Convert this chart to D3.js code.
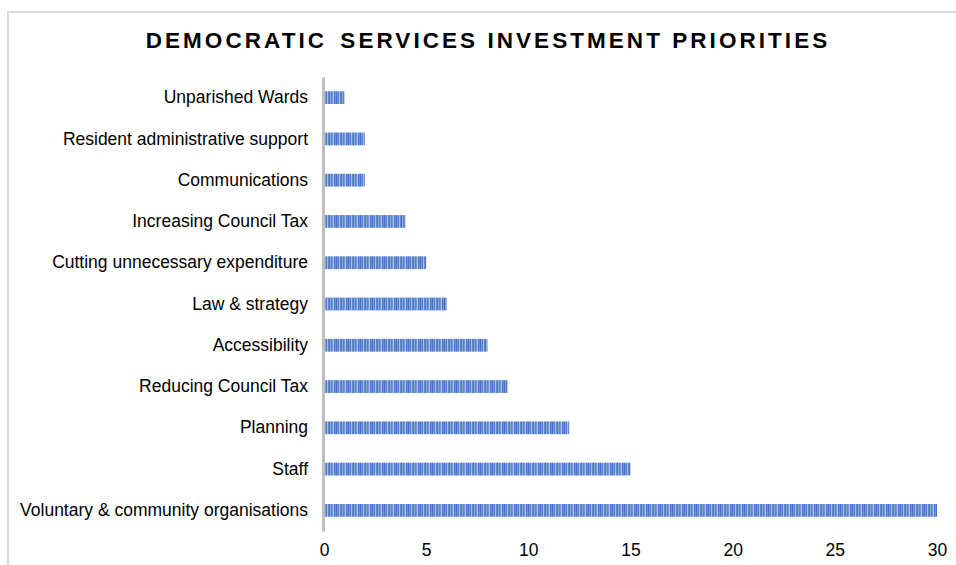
<!DOCTYPE html>
<html>
<head>
<meta charset="utf-8">
<script src="https://cdn.jsdelivr.net/npm/d3@7"></script>
<style>
  html, body { margin: 0; padding: 0; background: #fff; }
  svg { display: block; }
</style>
</head>
<body>
<svg id="chart" width="956" height="565"></svg>
<script>
// Investment priorities, listed top to bottom
const categories = [
  "Unparished Wards",
  "Resident administrative support",
  "Communications",
  "Increasing Council Tax",
  "Cutting unnecessary expenditure",
  "Law & strategy",
  "Accessibility",
  "Reducing Council Tax",
  "Planning",
  "Staff",
  "Voluntary & community organisations"
];
const values = [1, 2, 2, 4, 5, 6, 8, 9, 12, 15, 30];
const xTicks = [0, 5, 10, 15, 20, 25, 30];
const titleParts = ["DEMOCRATIC", " SERVICES INVESTMENT PRIORITIES"];

const svg = d3.select("#chart");
const W = 956, H = 565;
const margin = { left: 324, right: 19, top: 77, bottom: 34 };

// Striped fill for the bars
const defs = svg.append("defs");
const stripeColors = ["#4472c4", "#7b9bd8", "#5580cb", "#a8bde6", "#6289cf", "#4a76c6", "#8eaadf", "#5580cb", "#7296d6", "#b3c6ea", "#4d79c7", "#6d8fd3"];
const pat = defs.append("pattern")
  .attr("id", "stripes")
  .attr("patternUnits", "userSpaceOnUse")
  .attr("width", stripeColors.length)
  .attr("height", 10);
pat.selectAll("rect").data(stripeColors).join("rect")
  .attr("x", (d, i) => i).attr("y", 0)
  .attr("width", 1).attr("height", 10)
  .attr("fill", d => d);

// Chart frame
svg.append("rect")
  .attr("x", 8).attr("y", 12)
  .attr("width", W + 20).attr("height", H + 20)
  .attr("fill", "none")
  .attr("stroke", "#d9d9d9")
  .attr("stroke-width", 2);

const x = d3.scaleLinear().domain([0, 30]).range([margin.left, 937]);
const y = d3.scaleBand().domain(categories)
  .range([margin.top, H - margin.bottom])
  .paddingInner(0.69).paddingOuter(0.345);

// Title (slightly wider gap after the first word)
const titleText = svg.append("text")
  .attr("x", 488).attr("y", 48)
  .attr("text-anchor", "middle")
  .attr("font-family", "Liberation Sans, Arial, sans-serif")
  .attr("font-weight", "bold")
  .attr("font-size", 22.5)
  .attr("letter-spacing", 3.05)
  .attr("fill", "#000")
  .style("white-space", "pre");
titleText.append("tspan").text(titleParts[0]);
titleText.append("tspan").attr("dx", 4).text(titleParts[1]);

// Bars
svg.append("g").selectAll("rect")
  .data(categories.map((c, i) => ({ c, v: values[i] })))
  .join("rect")
  .attr("x", x(0))
  .attr("y", d => y(d.c))
  .attr("width", d => x(d.v) - x(0))
  .attr("height", y.bandwidth())
  .attr("fill", "url(#stripes)");

// Category axis
const yAxis = svg.append("g")
  .attr("transform", `translate(${margin.left - 1},0)`)
  .call(d3.axisLeft(y).tickSize(0).tickPadding(15));
yAxis.select(".domain").attr("stroke", "#bfbfbf").attr("stroke-width", 3);
yAxis.selectAll("text")
  .attr("font-family", "Liberation Sans, Arial, sans-serif")
  .attr("font-size", 17.5)
  .attr("fill", "#000");

// Value axis labels
const xAxis = svg.append("g")
  .attr("transform", `translate(0,${H - margin.bottom})`)
  .call(d3.axisBottom(x).tickValues(xTicks).tickSize(0).tickPadding(13));
xAxis.select(".domain").remove();
xAxis.selectAll("text")
  .attr("font-family", "Liberation Sans, Arial, sans-serif")
  .attr("font-size", 17.5)
  .attr("fill", "#000");
</script>
</body>
</html>
